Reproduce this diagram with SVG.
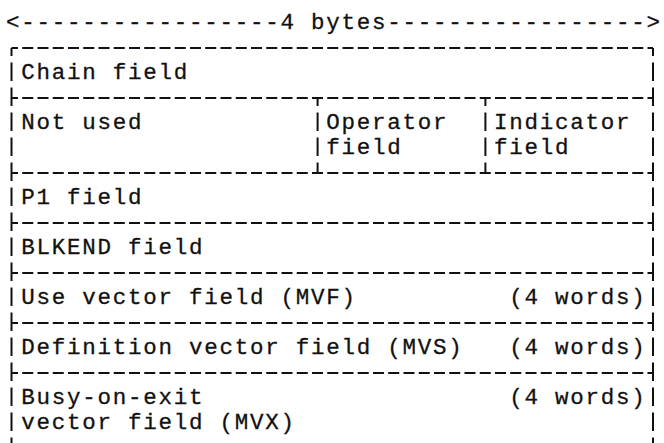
<svg xmlns="http://www.w3.org/2000/svg" width="664" height="443" viewBox="0 0 664 443">
<style>
text{font-family:"Liberation Mono","Courier New",monospace;font-size:22.5px;letter-spacing:1.75px;fill:#111;stroke:#111;stroke-width:0.3px;}
.h{stroke:#111;stroke-width:2;stroke-dasharray:11 4.25;stroke-dashoffset:4.5;fill:none;}
.v{stroke:#111;stroke-width:2;stroke-dasharray:18.5 6.5;stroke-dashoffset:10.5;fill:none;}
</style>
<rect width="664" height="443" fill="#fff"/>
<g id="width-label"><text x="5.9" y="28.5">&lt;-----------------4 bytes-----------------&gt;</text></g>
<g id="connectors">
<line class="h" x1="11.5" y1="48" x2="653" y2="48"/>
<line class="h" x1="11.5" y1="98" x2="653" y2="98"/>
<line class="h" x1="11.5" y1="173" x2="653" y2="173"/>
<line class="h" x1="11.5" y1="223" x2="653" y2="223"/>
<line class="h" x1="11.5" y1="273" x2="653" y2="273"/>
<line class="h" x1="11.5" y1="323" x2="653" y2="323"/>
<line class="h" x1="11.5" y1="373" x2="653" y2="373"/>
<line class="v" x1="11.5" y1="48" x2="11.5" y2="460"/>
<line class="v" x1="653" y1="48" x2="653" y2="460"/>
<line class="v" x1="317.6" y1="98" x2="317.6" y2="173"/>
<line class="v" x1="485.4" y1="98" x2="485.4" y2="173"/>
</g>
<g id="chain"><text x="21.15" y="78.5">Chain field</text></g>
<g id="not-used"><text x="21.15" y="128.5">Not used</text></g>
<g id="operator"><text x="326.15" y="128.5">Operator</text><text x="326.15" y="153.5">field</text></g>
<g id="indicator"><text x="493.9" y="128.5">Indicator</text><text x="493.9" y="153.5">field</text></g>
<g id="p1"><text x="21.15" y="203.5">P1 field</text></g>
<g id="blkend"><text x="21.15" y="253.5">BLKEND field</text></g>
<g id="mvf"><text x="21.15" y="303.5">Use vector field (MVF)</text><text x="509.15" y="303.5">(4 words)</text></g>
<g id="mvs"><text x="21.15" y="353.5">Definition vector field (MVS)</text><text x="509.15" y="353.5">(4 words)</text></g>
<g id="mvx"><text x="21.15" y="403.5">Busy-on-exit</text><text x="509.15" y="403.5">(4 words)</text><text x="21.15" y="428.5">vector field (MVX)</text></g>
</svg>
